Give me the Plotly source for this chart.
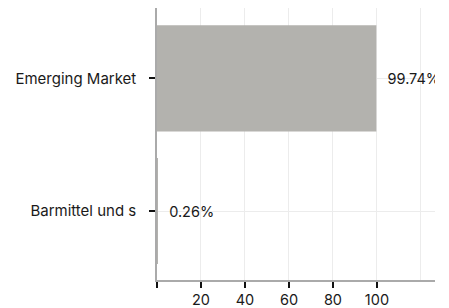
import plotly.graph_objects as go

categories = ["Barmittel und s", "Emerging Market"]
values = [0.26, 99.74]
labels = ["0.26%", "99.74%"]
x_tickvals = [0, 20, 40, 60, 80, 100]
x_ticktext = ["", "20", "40", "60", "80", "100"]

fig = go.Figure(go.Bar(
    y=categories, x=values, orientation="h",
    marker=dict(color="#b3b2ae", line=dict(width=0)),
    text=labels, texttemplate="  %{text}", textposition="outside",
    cliponaxis=True, constraintext="none",
    textfont=dict(color="#1a1a1a", size=14.5),
    width=0.8,
))

fig.update_layout(
    width=441, height=300,
    margin=dict(l=149, r=14, t=0, b=28, autoexpand=False),
    paper_bgcolor="white", plot_bgcolor="white",
    font=dict(family="Inter", size=15, color="#1a1a1a"),
    showlegend=False,
    xaxis=dict(
        range=[0, 126.4], tickvals=x_tickvals, ticktext=x_ticktext,
        showgrid=True, gridcolor="#ececec", gridwidth=1,
        showline=True, linecolor="#aaaaaa", linewidth=1.5,
        ticks="outside", ticklen=6, tickwidth=2, tickcolor="#111111",
        zeroline=False, automargin=False,
        minor=dict(tickvals=[120], showgrid=True, gridcolor="#ececec", ticks=""),
        tickfont=dict(size=14.5, color="#1a1a1a"),
    ),
    yaxis=dict(
        range=[-0.52, 1.53], automargin=False,
        showgrid=True, gridcolor="#ececec", gridwidth=1,
        showline=True, linecolor="#aaaaaa", linewidth=1.5,
        ticks="outside", ticklen=6, tickwidth=2, tickcolor="#111111",
        ticklabelstandoff=10,
        tickfont=dict(size=15, color="#1a1a1a"),
    ),
)

fig.write_html("out.html")
